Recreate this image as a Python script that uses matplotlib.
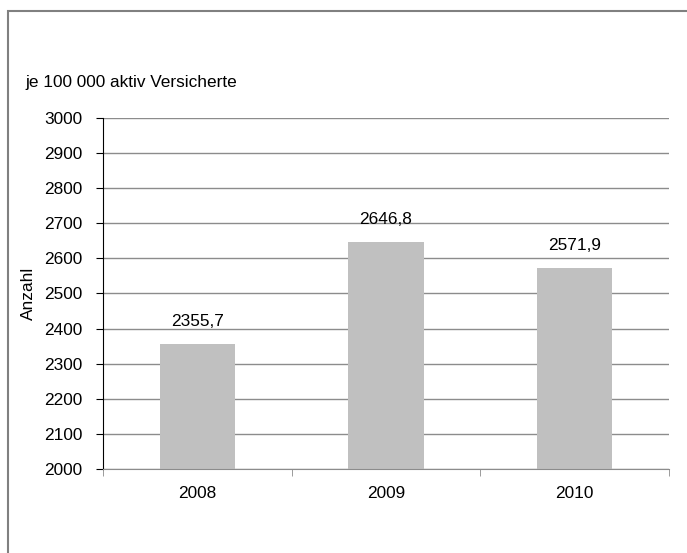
import matplotlib
matplotlib.use("Agg")
import matplotlib.pyplot as plt
from matplotlib.patches import Rectangle

years = ["2008", "2009", "2010"]
rates = [2355.7, 2646.8, 2571.9]
y_ticks = list(range(2000, 3001, 100))

plt.rcParams["font.family"] = ["Liberation Sans", "DejaVu Sans"]
plt.rcParams["font.size"] = 12.4

fig = plt.figure(figsize=(6.87, 5.53), dpi=100)

# grey frame around the chart area
fig.patches.append(Rectangle((8 / 687, -0.1), 1.1, 1 - 11 / 553 + 0.1,
                             transform=fig.transFigure, fill=False,
                             edgecolor="#808080", linewidth=1.5))

ax = fig.add_axes([103 / 687, 1 - 469 / 553, 566 / 687, 351 / 553])
pos = range(len(years))
ax.bar(pos, rates, width=0.4, color="#c0c0c0", zorder=2)

for x, v in zip(pos, rates):
    ax.annotate(f"{v:.1f}".replace(".", ","), (x, v), xytext=(0, 16.5),
                textcoords="offset points", ha="center", va="center")

ax.set_ylim(2000, 3000)
ax.set_xlim(-0.5, 2.5)
ax.set_yticks(y_ticks)
ax.yaxis.grid(True, color="#8c8c8c", linewidth=1)
ax.set_axisbelow(True)

ax.set_xticks(list(pos))
ax.set_xticklabels(years)
ax.set_xticks([-0.5, 0.5, 1.5, 2.5], minor=True)
ax.tick_params(axis="x", which="major", length=0, pad=12)
ax.tick_params(axis="x", which="minor", length=5, color="#8c8c8c")
ax.tick_params(axis="y", length=5, direction="out", pad=10)

for s in ["top", "right"]:
    ax.spines[s].set_visible(False)
ax.spines["left"].set_color("black")
ax.spines["bottom"].set_color("#8c8c8c")

ax.set_ylabel("Anzahl", va="center")
ax.yaxis.set_label_coords(-0.1325, 0.5)
fig.text(25 / 687, 1 - 82 / 553, "je 100 000 aktiv Versicherte",
         ha="left", va="center")

fig.savefig("out.png", dpi=100)
